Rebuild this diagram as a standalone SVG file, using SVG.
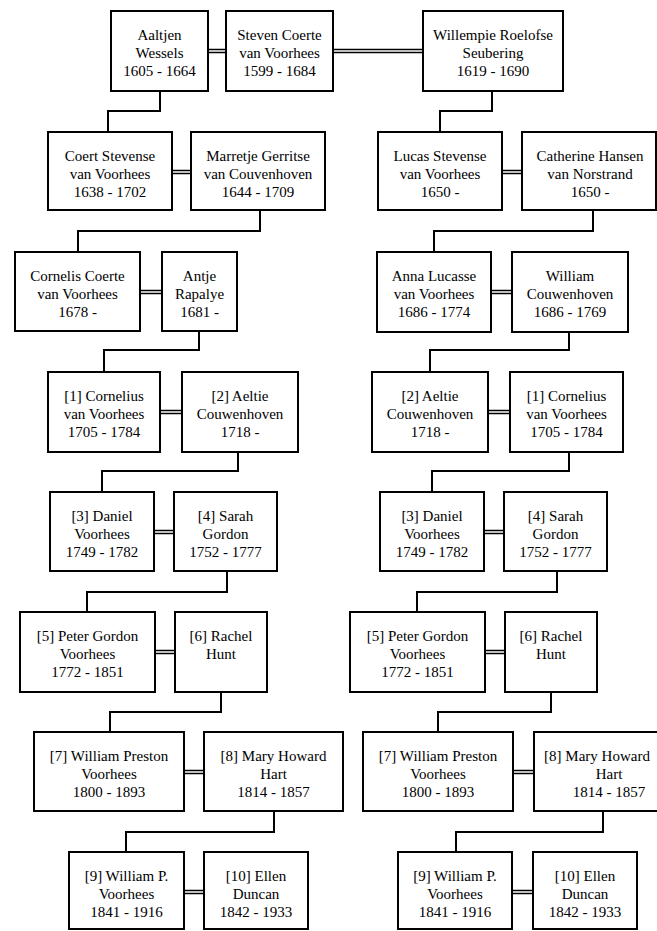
<svg xmlns="http://www.w3.org/2000/svg" width="657" height="931" viewBox="0 0 657 931">
<style>
.b{fill:#fff;stroke:#000;stroke-width:2}
.t{font-family:'Liberation Serif','Times New Roman','DejaVu Serif',serif;font-size:15px;fill:#000;text-anchor:middle}
.c{fill:none;stroke:#000;stroke-width:2}
.m{fill:none;stroke:#000;stroke-width:1.6}
</style>
<rect width="657" height="931" fill="#fff"/>
<g id="connectors">
<path class="m" d="M208 49.5H226M208 52.5H226M333 49.5H423M333 52.5H423"/>
<path class="m" d="M172 170.5H191M172 173.5H191M502 170.5H522M502 173.5H522"/>
<path class="m" d="M140 290.5H162M140 293.5H162M491 290.5H512M491 293.5H512"/>
<path class="m" d="M160 410.5H182M160 413.5H182M488 410.5H510M488 413.5H510"/>
<path class="m" d="M154 530.5H174M154 533.5H174M484 530.5H504M484 533.5H504"/>
<path class="m" d="M155 650.5H175M155 653.5H175M485 650.5H505M485 653.5H505"/>
<path class="m" d="M184 770.5H204M184 773.5H204M513 770.5H534M513 773.5H534"/>
<path class="m" d="M184 890.5H204M184 893.5H204M512 890.5H533M512 893.5H533"/>
<path class="c" d="M160 91V111H108V132"/>
<path class="c" d="M492 91V111H440V132"/>
<path class="c" d="M260 210V231H78V252"/>
<path class="c" d="M593 210V231H434V252"/>
<path class="c" d="M199 331V350H104V372"/>
<path class="c" d="M569 332V350H430V372"/>
<path class="c" d="M238 452V471H102V492"/>
<path class="c" d="M569 452V471H432V492"/>
<path class="c" d="M227 571V592H87V612"/>
<path class="c" d="M557 571V592H417V612"/>
<path class="c" d="M221 692V712H110V732"/>
<path class="c" d="M551 692V712H438V732"/>
<path class="c" d="M274 811V832H126V852"/>
<path class="c" d="M603 811V832H456V852"/>
</g>
<g id="aaltjen"><rect class="b" x="111" y="11" width="97" height="80"/><text class="t" x="159.5" y="40">Aaltjen</text><text class="t" x="159.5" y="57.5">Wessels</text><text class="t" x="159.5" y="75.5">1605 - 1664</text></g>
<g id="steven"><rect class="b" x="226" y="11" width="107" height="80"/><text class="t" x="279.5" y="40">Steven Coerte</text><text class="t" x="279.5" y="57.5">van Voorhees</text><text class="t" x="279.5" y="75.5">1599 - 1684</text></g>
<g id="willempie"><rect class="b" x="423" y="11" width="140" height="80"/><text class="t" x="493" y="40">Willempie Roelofse</text><text class="t" x="493" y="57.5">Seubering</text><text class="t" x="493" y="75.5">1619 - 1690</text></g>

<g id="coert"><rect class="b" x="48" y="132" width="124" height="78"/><text class="t" x="110" y="160.5">Coert Stevense</text><text class="t" x="110" y="178.5">van Voorhees</text><text class="t" x="110" y="196.5">1638 - 1702</text></g>
<g id="marretje"><rect class="b" x="191" y="132" width="134" height="78"/><text class="t" x="258" y="160.5">Marretje Gerritse</text><text class="t" x="258" y="178.5">van Couvenhoven</text><text class="t" x="258" y="196.5">1644 - 1709</text></g>
<g id="lucas"><rect class="b" x="378" y="132" width="124" height="78"/><text class="t" x="440" y="160.5">Lucas Stevense</text><text class="t" x="440" y="178.5">van Voorhees</text><text class="t" x="440" y="196.5">1650 -</text></g>
<g id="catherine"><rect class="b" x="522" y="132" width="134" height="78"/><text class="t" x="590" y="160.5">Catherine Hansen</text><text class="t" x="590" y="178.5">van Norstrand</text><text class="t" x="590" y="196.5">1650 -</text></g>

<g id="cornelis-coerte"><rect class="b" x="15" y="252" width="125" height="79"/><text class="t" x="77.5" y="280.5">Cornelis Coerte</text><text class="t" x="77.5" y="298.5">van Voorhees</text><text class="t" x="77.5" y="316.5">1678 -</text></g>
<g id="antje"><rect class="b" x="162" y="252" width="75" height="79"/><text class="t" x="199.5" y="280.5">Antje</text><text class="t" x="199.5" y="298.5">Rapalye</text><text class="t" x="199.5" y="316.5">1681 -</text></g>
<g id="anna"><rect class="b" x="377" y="252" width="114" height="80"/><text class="t" x="434" y="280.5">Anna Lucasse</text><text class="t" x="434" y="298.5">van Voorhees</text><text class="t" x="434" y="316.5">1686 - 1774</text></g>
<g id="william-c"><rect class="b" x="512" y="252" width="116" height="80"/><text class="t" x="570" y="280.5">William</text><text class="t" x="570" y="298.5">Couwenhoven</text><text class="t" x="570" y="316.5">1686 - 1769</text></g>

<g id="cornelius-l"><rect class="b" x="48" y="372" width="112" height="80"/><text class="t" x="104" y="400.5">[1] Cornelius</text><text class="t" x="104" y="418.5">van Voorhees</text><text class="t" x="104" y="436.5">1705 - 1784</text></g>
<g id="aeltie-l"><rect class="b" x="182" y="372" width="116" height="80"/><text class="t" x="240" y="400.5">[2] Aeltie</text><text class="t" x="240" y="418.5">Couwenhoven</text><text class="t" x="240" y="436.5">1718 -</text></g>
<g id="aeltie-r"><rect class="b" x="372" y="372" width="116" height="80"/><text class="t" x="430" y="400.5">[2] Aeltie</text><text class="t" x="430" y="418.5">Couwenhoven</text><text class="t" x="430" y="436.5">1718 -</text></g>
<g id="cornelius-r"><rect class="b" x="510" y="372" width="113" height="80"/><text class="t" x="566.5" y="400.5">[1] Cornelius</text><text class="t" x="566.5" y="418.5">van Voorhees</text><text class="t" x="566.5" y="436.5">1705 - 1784</text></g>

<g id="daniel-l"><rect class="b" x="50" y="492" width="104" height="79"/><text class="t" x="102" y="520.5">[3] Daniel</text><text class="t" x="102" y="538.5">Voorhees</text><text class="t" x="102" y="556.5">1749 - 1782</text></g>
<g id="sarah-l"><rect class="b" x="174" y="492" width="103" height="79"/><text class="t" x="225.5" y="520.5">[4] Sarah</text><text class="t" x="225.5" y="538.5">Gordon</text><text class="t" x="225.5" y="556.5">1752 - 1777</text></g>
<g id="daniel-r"><rect class="b" x="380" y="492" width="104" height="79"/><text class="t" x="432" y="520.5">[3] Daniel</text><text class="t" x="432" y="538.5">Voorhees</text><text class="t" x="432" y="556.5">1749 - 1782</text></g>
<g id="sarah-r"><rect class="b" x="504" y="492" width="103" height="79"/><text class="t" x="555.5" y="520.5">[4] Sarah</text><text class="t" x="555.5" y="538.5">Gordon</text><text class="t" x="555.5" y="556.5">1752 - 1777</text></g>

<g id="peter-l"><rect class="b" x="20" y="612" width="135" height="80"/><text class="t" x="87.5" y="640.5">[5] Peter Gordon</text><text class="t" x="87.5" y="658.5">Voorhees</text><text class="t" x="87.5" y="676.5">1772 - 1851</text></g>
<g id="rachel-l"><rect class="b" x="175" y="612" width="92" height="80"/><text class="t" x="221" y="640.5">[6] Rachel</text><text class="t" x="221" y="658.5">Hunt</text></g>
<g id="peter-r"><rect class="b" x="350" y="612" width="135" height="80"/><text class="t" x="417.5" y="640.5">[5] Peter Gordon</text><text class="t" x="417.5" y="658.5">Voorhees</text><text class="t" x="417.5" y="676.5">1772 - 1851</text></g>
<g id="rachel-r"><rect class="b" x="505" y="612" width="92" height="80"/><text class="t" x="551" y="640.5">[6] Rachel</text><text class="t" x="551" y="658.5">Hunt</text></g>

<g id="wp-l"><rect class="b" x="34" y="732" width="150" height="79"/><text class="t" x="109" y="760.5">[7] William Preston</text><text class="t" x="109" y="778.5">Voorhees</text><text class="t" x="109" y="796.5">1800 - 1893</text></g>
<g id="mary-l"><rect class="b" x="204" y="732" width="139" height="79"/><text class="t" x="273.5" y="760.5">[8] Mary Howard</text><text class="t" x="273.5" y="778.5">Hart</text><text class="t" x="273.5" y="796.5">1814 - 1857</text></g>
<g id="wp-r"><rect class="b" x="363" y="732" width="150" height="79"/><text class="t" x="438" y="760.5">[7] William Preston</text><text class="t" x="438" y="778.5">Voorhees</text><text class="t" x="438" y="796.5">1800 - 1893</text></g>
<g id="mary-r"><rect class="b" x="534" y="732" width="154" height="79"/><text class="t" x="597" y="760.5">[8] Mary Howard</text><text class="t" x="609" y="778.5">Hart</text><text class="t" x="609" y="796.5">1814 - 1857</text></g>

<g id="wpp-l"><rect class="b" x="69" y="852" width="115" height="77"/><text class="t" x="126.5" y="880.5">[9] William P.</text><text class="t" x="126.5" y="898.5">Voorhees</text><text class="t" x="126.5" y="916.5">1841 - 1916</text></g>
<g id="ellen-l"><rect class="b" x="204" y="852" width="104" height="77"/><text class="t" x="256" y="880.5">[10] Ellen</text><text class="t" x="256" y="898.5">Duncan</text><text class="t" x="256" y="916.5">1842 - 1933</text></g>
<g id="wpp-r"><rect class="b" x="398" y="852" width="114" height="77"/><text class="t" x="455" y="880.5">[9] William P.</text><text class="t" x="455" y="898.5">Voorhees</text><text class="t" x="455" y="916.5">1841 - 1916</text></g>
<g id="ellen-r"><rect class="b" x="533" y="852" width="104" height="77"/><text class="t" x="585" y="880.5">[10] Ellen</text><text class="t" x="585" y="898.5">Duncan</text><text class="t" x="585" y="916.5">1842 - 1933</text></g>
</svg>
